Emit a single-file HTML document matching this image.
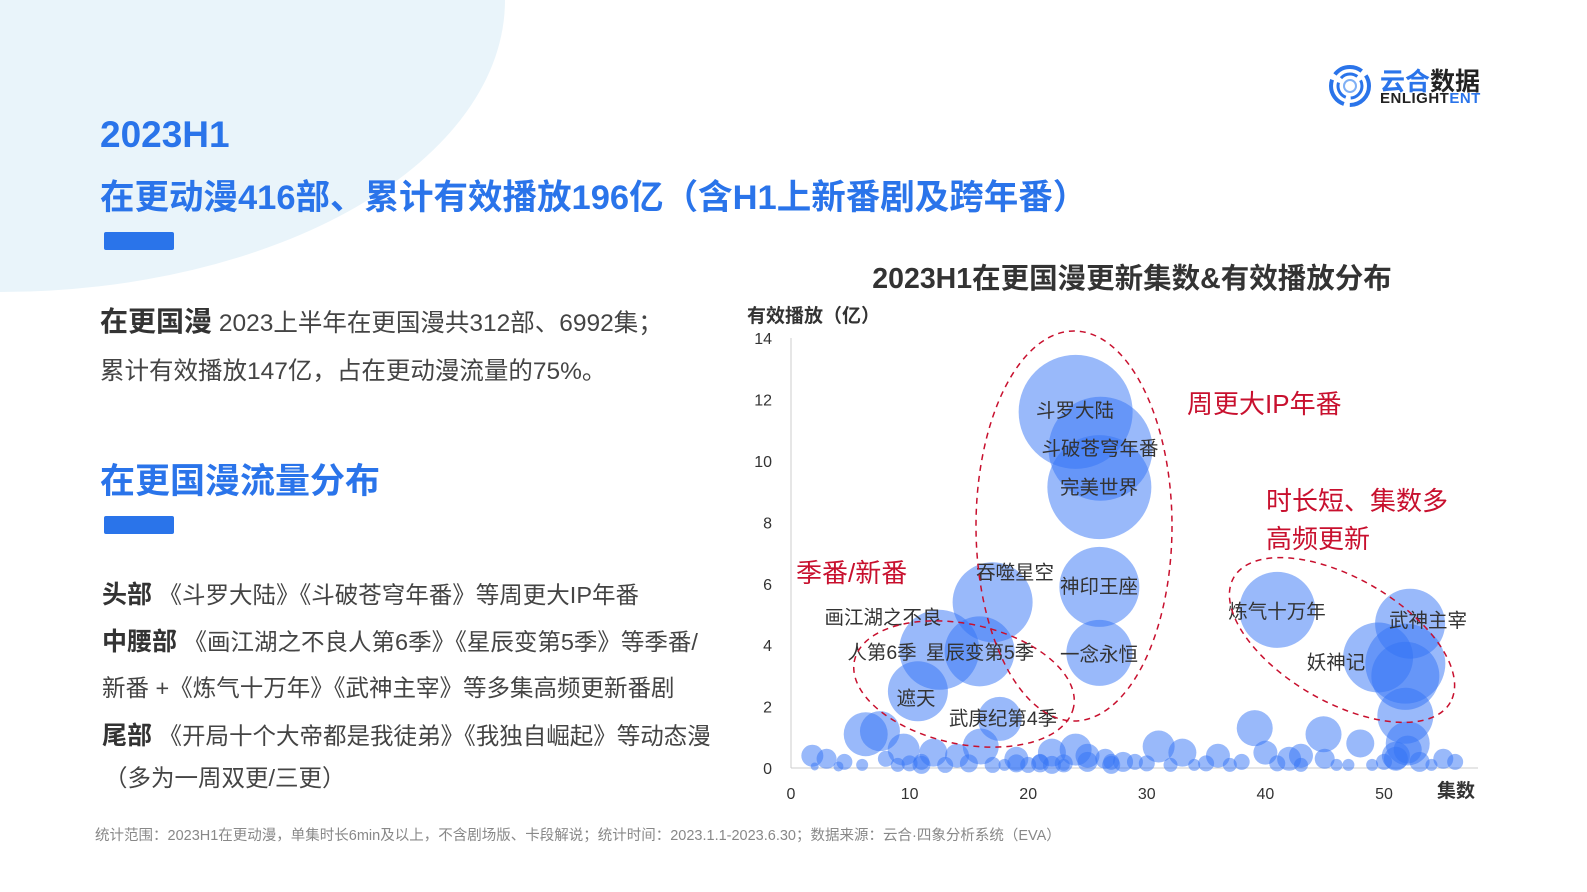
<!DOCTYPE html>
<html><head><meta charset="utf-8">
<style>
body{margin:0;width:1587px;height:892px;overflow:hidden;background:#fff;font-family:"Liberation Sans","Noto Sans CJK SC",sans-serif;position:relative}
.abs{position:absolute;white-space:nowrap}
.bl{color:#2a74ea;font-weight:bold}
.bar{position:absolute;width:70px;height:18px;background:#2a74ea;border-radius:2px}
.txt{color:#444;font-size:23.5px}
.b{font-weight:bold;color:#333;font-size:25px}
</style></head><body>
<svg class="abs" style="left:0;top:0" width="1587" height="892">
<ellipse cx="0" cy="0" rx="505" ry="292" fill="#e9f4fa"/>
</svg>
<div class="abs bl" style="left:100px;top:114px;font-size:37px">2023H1</div>
<div class="abs bl" style="left:100px;top:169px;font-size:34.5px">在更动漫416部、累计有效播放196亿（含H1上新番剧及跨年番）</div>
<div class="bar" style="left:104px;top:232px"></div>
<div class="abs" style="left:1328px;top:62px">
<svg width="46" height="46" style="position:absolute;left:0;top:0"><circle cx="22" cy="24" r="19" fill="none" stroke="#2a74ea" stroke-width="4" stroke-dasharray="30 6"/><circle cx="22" cy="24" r="12" fill="none" stroke="#2a74ea" stroke-width="3" stroke-dasharray="18 5"/><circle cx="22" cy="24" r="6" fill="none" stroke="#7fb0f5" stroke-width="2"/></svg>
<div class="abs" style="left:52px;top:0;font-size:25px;font-weight:bold;color:#2a74ea">云合<span style="color:#222">数据</span></div>
<div class="abs" style="left:52px;top:28px;font-size:15px;font-weight:bold;color:#222;letter-spacing:0.5px">ENLIGHT<span style="color:#2a74ea">ENT</span></div>
</div>
<div class="abs txt" style="left:100px;top:300px;font-size:24.5px"><span style="font-weight:bold;color:#333;font-size:28px">在更国漫</span> 2023上半年在更国漫共312部、6992集；</div>
<div class="abs txt" style="left:100px;top:352px;font-size:24.5px">累计有效播放147亿，占在更动漫流量的75%。</div>
<div class="abs bl" style="left:100px;top:453px;font-size:35px">在更国漫流量分布</div>
<div class="bar" style="left:104px;top:516px"></div>
<div class="abs txt" style="left:102px;top:575px"><span class="b">头部</span> 《斗罗大陆》《斗破苍穹年番》等周更大IP年番</div>
<div class="abs txt" style="left:102px;top:622px"><span class="b">中腰部</span> 《画江湖之不良人第6季》《星辰变第5季》等季番/</div>
<div class="abs txt" style="left:102px;top:669px">新番 +《炼气十万年》《武神主宰》等多集高频更新番剧</div>
<div class="abs txt" style="left:102px;top:716px"><span class="b">尾部</span> 《开局十个大帝都是我徒弟》《我独自崛起》等动态漫</div>
<div class="abs txt" style="left:104px;top:759px">（多为一周双更/三更）</div>
<div class="abs" style="left:95px;top:824px;font-size:14.5px;color:#888">统计范围：2023H1在更动漫，单集时长6min及以上，不含剧场版、卡段解说；统计时间：2023.1.1-2023.6.30；数据来源：云合·四象分析系统（EVA）</div>

<svg id="chart" class="abs" style="left:0;top:0" width="1587" height="892"></svg>
<script>
const xTicks=[0,10,20,30,40,50];
const yTicks=[0,2,4,6,8,10,12,14];
const xs=[24,26.1,26,26,26,17,12.5,15.9,10.7,17.6,7.5,6.3,41,52.2,49.5,51.8,51.8,51.8,39.1,52,44.9,48,1.8,3,4.5,9.5,12,14,16,19,22,24,25,26.5,28,31,33,36,40,42,43,45,50,51,53,55,56,8,11,18,21,23,27,29,34,38,47,
2,4,6,9,10,11,13,15,17,19,20,21,22,23,25,27,30,32,35,37,41,43,46,49,51,52,54];
const ys=[11.6,10.4,9.15,5.9,3.75,5.4,3.85,3.8,2.5,1.6,1.2,1.1,5.15,4.7,3.6,3.4,3,1.7,1.3,0.8,1.1,0.8,0.4,0.3,0.2,0.6,0.5,0.4,0.7,0.3,0.5,0.6,0.4,0.3,0.2,0.7,0.5,0.4,0.5,0.3,0.4,0.3,0.2,0.4,0.2,0.3,0.2,0.3,0.2,0.1,0.2,0.1,0.2,0.2,0.1,0.2,0.1,
0.05,0.05,0.1,0.1,0.15,0.1,0.1,0.15,0.1,0.15,0.1,0.15,0.1,0.15,0.2,0.1,0.15,0.1,0.15,0.1,0.15,0.1,0.1,0.1,0.3,0.6,0.1];
const rs=[57,52,52,40,33,40,40,35,30,22,20,22,38,35,35,40,34,28,18,22,18,14,11,10,8,16,14,12,18,12,14,16,12,10,10,16,14,12,12,12,12,10,8,14,10,10,8,8,8,6,8,6,8,8,6,8,6,
4,5,6,7,8,9,8,9,8,9,8,9,9,9,10,9,8,7,8,7,8,7,6,6,12,14,6];
const X=v=>791+v*11.86, Y=v=>768-v*30.7;
const NS="http://www.w3.org/2000/svg", svg=document.getElementById('chart');
function mk(t,a,txt){const e=document.createElementNS(NS,t);for(const k in a)e.setAttribute(k,a[k]);if(txt!==undefined)e.textContent=txt;svg.appendChild(e);return e;}
let e;
e=mk('text',{x:1132,y:288,'text-anchor':'middle','font-size':28.5,'font-weight':'bold',fill:'#333'},'2023H1在更国漫更新集数&有效播放分布');


e=mk('text',{x:747,y:322,'font-size':19,'font-weight':'bold',fill:'#333'},'有效播放（亿）');


e=mk('text',{x:1437,y:797,'font-size':19,'font-weight':'bold',fill:'#333'},'集数');


e=mk('line',{x1:791,y1:338,x2:791,y2:768,stroke:'#ccc'});


e=mk('line',{x1:791,y1:768,x2:1478,y2:768,stroke:'#ccc'});


yTicks.forEach(t=>{e=mk('text',{x:772,y:Y(t)+6,'text-anchor':'end','font-size':16,fill:'#333'},t);

});
xTicks.forEach(t=>{e=mk('text',{x:X(t),y:799,'text-anchor':'middle','font-size':16,fill:'#333'},t);

});
xs.forEach((v,i)=>{e=mk('circle',{cx:X(v),cy:Y(ys[i]),r:rs[i],fill:'rgba(52,115,245,0.5)'});

});
const labels=[['斗罗大陆',1075,417],['斗破苍穹年番',1100,455],['完美世界',1099,494],['神印王座',1099,593],['一念永恒',1099,661],['吞噬星空',1015,579],['画江湖之不良',883,624],['人第6季',882,659],['星辰变第5季',980,659],['遮天',916,705],['武庚纪第4季',1003,725],['炼气十万年',1277,618],['武神主宰',1428,627],['妖神记',1336,669]];
labels.forEach(l=>{e=mk('text',{x:l[1],y:l[2],'text-anchor':'middle','font-size':19.5,fill:'#333'},l[0]);

});
[[1074,526,98,195,0],[964,684,112,60,12],[1342,640,125,62,30]].forEach(o=>{e=mk('ellipse',{cx:o[0],cy:o[1],rx:o[2],ry:o[3],fill:'none',stroke:'#c8102e','stroke-width':1.5,'stroke-dasharray':'6 5',transform:`rotate(${o[4]} ${o[0]} ${o[1]})`});

});
[['周更大IP年番',1187,413],['时长短、集数多',1266,510],['高频更新',1266,548],['季番/新番',796,582]].forEach(l=>{e=mk('text',{x:l[1],y:l[2],'font-size':26,fill:'#c8102e'},l[0]);

});
</script>
</body></html>
